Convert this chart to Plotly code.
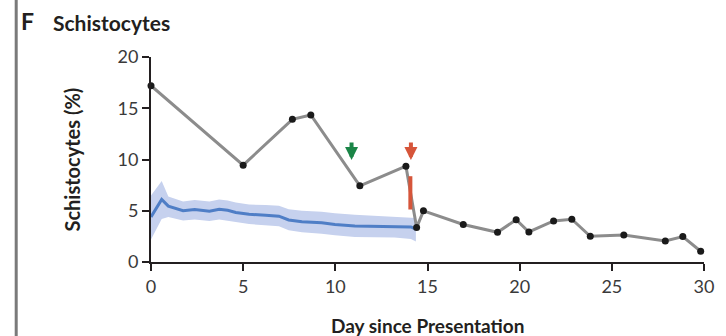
import plotly.graph_objects as go

# Patient schistocyte measurements (day since presentation, %)
patient_day = [0, 5.0, 7.67, 8.67, 11.33, 13.83, 14.41, 14.78, 16.94, 18.8,
               19.81, 20.5, 21.84, 22.83, 23.83, 25.65, 27.9, 28.85, 29.82]
patient_pct = [17.2, 9.45, 13.92, 14.34, 7.43, 9.35, 3.36, 4.99, 3.66, 2.9,
               4.12, 2.93, 4.0, 4.17, 2.51, 2.64, 2.05, 2.48, 1.05]

# Reference cohort mean with confidence band
cohort_day = [0, 0.58, 0.94, 1.74, 2.37, 3.17, 3.7, 4.16, 4.6, 5.32, 6.22,
              6.94, 7.47, 8.19, 9.26, 9.98, 11.06, 12.13, 13.21, 14.1, 14.37]
cohort_mean = [4.4, 6.1, 5.45, 5.0, 5.12, 4.95, 5.15, 5.05, 4.83, 4.66, 4.56,
               4.47, 4.1, 3.92, 3.82, 3.66, 3.52, 3.48, 3.48, 3.42, 3.2]
cohort_upper = [6.5, 7.9, 6.4, 5.9, 6.05, 5.9, 6.1, 6.0, 5.8, 5.6, 5.55,
                5.5, 5.15, 5.0, 4.9, 4.75, 4.6, 4.5, 4.45, 4.35, 4.3]
cohort_lower = [2.2, 4.2, 4.4, 4.05, 4.15, 4.0, 4.15, 4.05, 3.9, 3.7, 3.6,
                3.5, 3.1, 2.9, 2.75, 2.6, 2.45, 2.42, 2.4, 2.25, 2.0]

# Event markers
green_arrow = (10.88, 9.94)
red_arrow = (14.1, 9.94)
red_bar = (14.07, 5.12, 8.37)

x_ticks = [0, 5, 10, 15, 20, 25, 30]
y_ticks = [0, 5, 10, 15, 20]

FONT = "Lato"
AX = "#231f20"

fig = go.Figure()

fig.add_trace(go.Scatter(
    x=cohort_day + cohort_day[::-1],
    y=cohort_upper + cohort_lower[::-1],
    fill="toself", fillcolor="#c6d1ee", line=dict(width=0),
    hoverinfo="skip", showlegend=False,
))
fig.add_trace(go.Scatter(
    x=cohort_day, y=cohort_mean, mode="lines",
    line=dict(color="#4f7ec6", width=3), showlegend=False,
))
fig.add_trace(go.Scatter(
    x=patient_day, y=patient_pct, mode="lines+markers",
    line=dict(color="#8c8c8c", width=3),
    marker=dict(color="#1a1a1a", size=7),
    cliponaxis=False, showlegend=False,
))

# Red treatment bar
fig.add_shape(type="line", x0=red_bar[0], x1=red_bar[0], y0=red_bar[1], y1=red_bar[2],
              line=dict(color="#d6553a", width=4))

for (ax_x, ax_y), col in [(green_arrow, "#1b8547"), (red_arrow, "#d6553a")]:
    fig.add_annotation(x=ax_x, y=ax_y, ax=0, ay=-19, text="", showarrow=True,
                       arrowhead=2, arrowsize=0.65, arrowwidth=4, arrowcolor=col)

W, H = 726, 336
L, R, T, B = 151, 15, 57, 74
pw, ph = W - L - R, H - T - B


def px(x):
    return (x - L) / pw


def py(y):
    return (H - B - y) / ph


fig.add_annotation(x=px(17), y=py(21), xref="paper", yref="paper", text="<b>F</b>",
                   showarrow=False, xanchor="left", yanchor="middle",
                   font=dict(family=FONT, size=23, color="#231f20"))
fig.add_annotation(x=px(50), y=py(22), xref="paper", yref="paper", text="<b>Schistocytes</b>",
                   showarrow=False, xanchor="left", yanchor="middle",
                   font=dict(family=FONT, size=21, color="#231f20"))
fig.add_annotation(x=px(70), y=0.5, xref="paper", yref="paper", text="<b>Schistocytes (%)</b>",
                   showarrow=False, textangle=-90, xanchor="center", yanchor="middle",
                   font=dict(family=FONT, size=20, color="#231f20"))
fig.add_annotation(x=0.5, y=py(325), xref="paper", yref="paper", text="<b>Day since Presentation</b>",
                   showarrow=False, xanchor="center", yanchor="middle",
                   font=dict(family=FONT, size=19, color="#231f20"))

# Left panel border
fig.add_shape(type="line", xref="paper", yref="paper", x0=px(14.5), x1=px(14.5),
              y0=py(H + 2), y1=py(-2), line=dict(color="#7a7a7a", width=3))

fig.update_layout(
    width=W, height=H,
    margin=dict(l=L, r=R, t=T, b=B),
    paper_bgcolor="white", plot_bgcolor="white",
    font=dict(family=FONT, size=18, color="#3a3a3a"),
    xaxis=dict(range=[0, 30], tickvals=x_ticks, showgrid=False, zeroline=False,
               showline=True, linecolor=AX, linewidth=2, ticks="outside",
               ticklen=7, tickwidth=2, tickcolor=AX),
    yaxis=dict(range=[0, 20], tickvals=y_ticks, showgrid=False, zeroline=False,
               showline=True, linecolor=AX, linewidth=2, ticks="outside",
               ticklen=7, tickwidth=2, tickcolor=AX),
)

fig.write_html("out.html")
